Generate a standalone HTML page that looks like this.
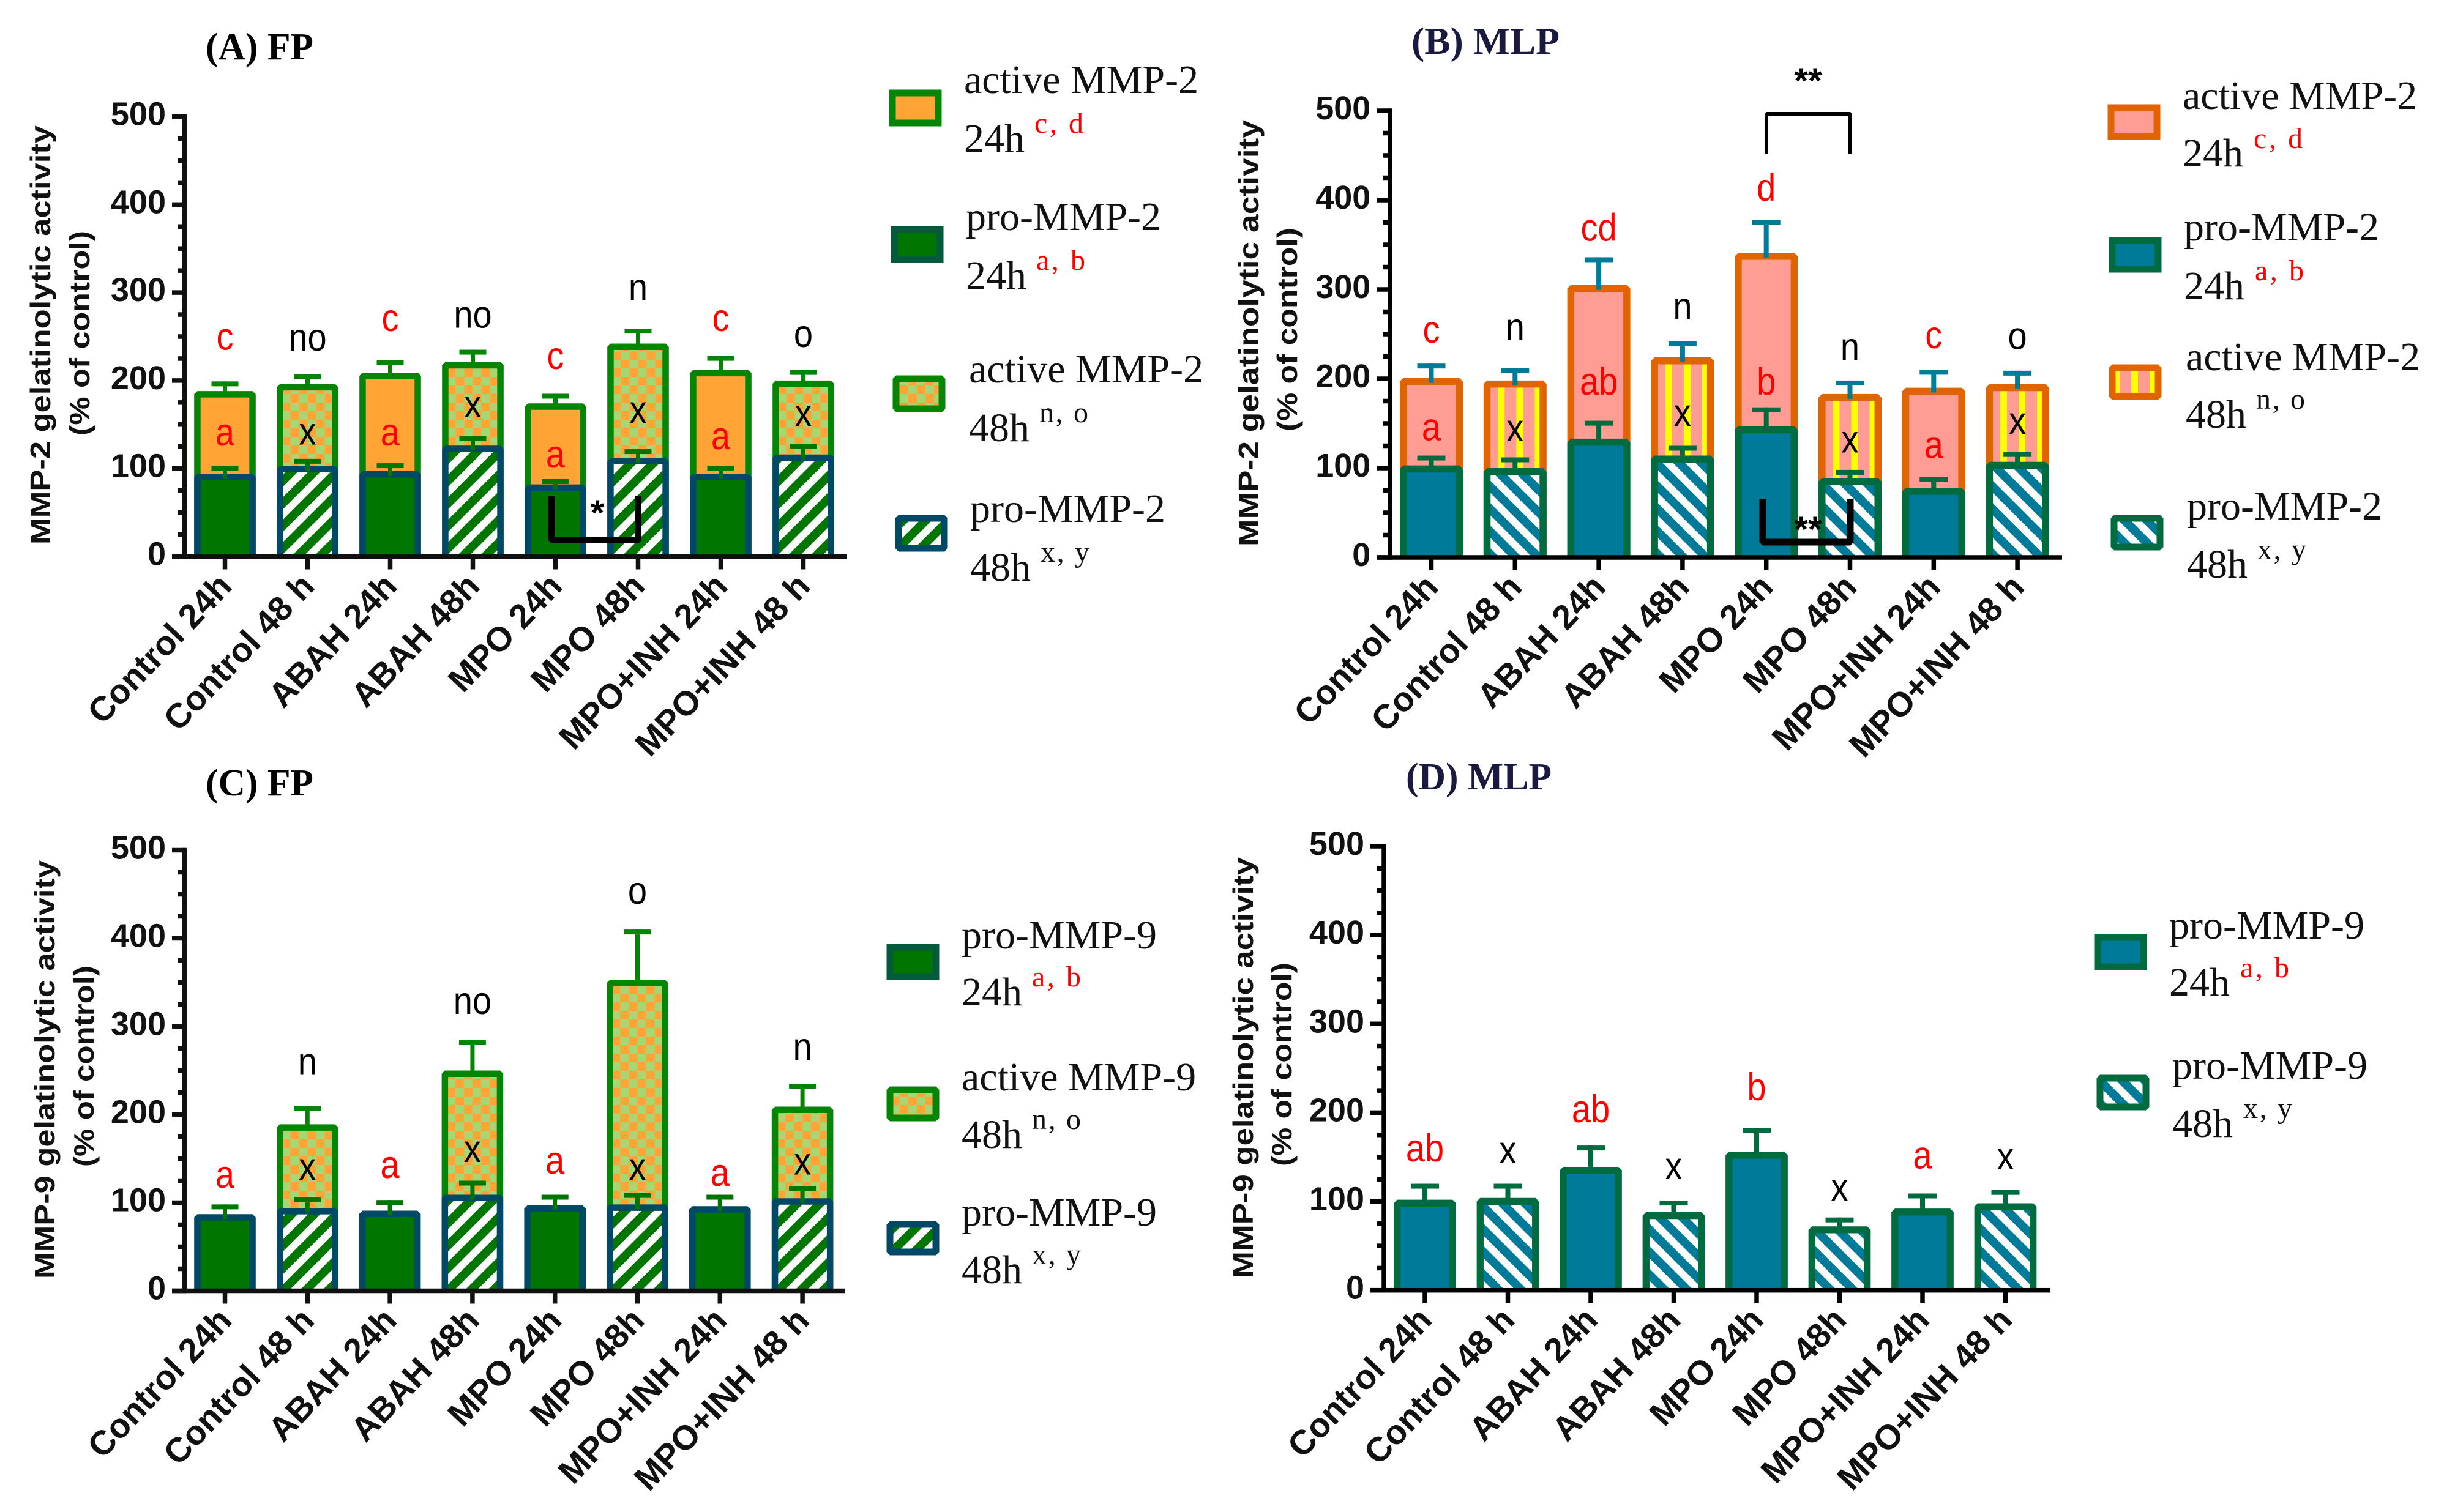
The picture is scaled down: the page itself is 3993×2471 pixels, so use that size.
<!DOCTYPE html>
<html>
<head>
<meta charset="utf-8">
<title>MMP-2 and MMP-9 gelatinolytic activity</title>
<style>
html,body{margin:0;padding:0;background:#fff;width:3993px;height:2471px;overflow:hidden}
svg{display:block}
.leg{font-family:"Liberation Serif",serif;font-size:66px;fill:#111}
.sup{font-family:"Liberation Serif",serif;font-size:48px}
.ttl{font-family:"Liberation Serif",serif;font-size:62px;font-weight:bold}
.star{font-family:"Liberation Sans",sans-serif;font-weight:bold;font-size:58px;fill:#000;text-anchor:middle}
</style>
</head>
<body>
<svg id="fig" xmlns="http://www.w3.org/2000/svg" width="3993" height="2471" viewBox="0 0 3993 2471">
<defs>
<pattern id="hatchGreen" patternUnits="userSpaceOnUse" width="26" height="26" patternTransform="rotate(45)"><rect width="26" height="26" fill="#fff"/><rect width="14" height="26" fill="#007500"/></pattern>
<pattern id="hatchTeal" patternUnits="userSpaceOnUse" width="26" height="26" patternTransform="rotate(-45)"><rect width="26" height="26" fill="#fff"/><rect width="14" height="26" fill="#007a99"/></pattern>
<pattern id="checker" patternUnits="userSpaceOnUse" width="28" height="28"><rect width="28" height="28" fill="#ffa435"/><rect x="14" width="14" height="14" fill="#a8d672"/><rect y="14" width="14" height="14" fill="#a8d672"/></pattern>
<pattern id="vstripe" patternUnits="userSpaceOnUse" x="-8" width="30" height="30"><rect width="30" height="30" fill="#ff9c94"/><rect x="10" width="11" height="30" fill="#ffff00"/></pattern>
</defs>

<text class="ttl" x="336" y="97" fill="#000" textLength="176" lengthAdjust="spacingAndGlyphs">(A) FP</text>
<text class="ttl" x="2306" y="88" fill="#1a1a40" textLength="242" lengthAdjust="spacingAndGlyphs">(B) MLP</text>
<text class="ttl" x="336" y="1300" fill="#000" textLength="176" lengthAdjust="spacingAndGlyphs">(C) FP</text>
<text class="ttl" x="2297" y="1290" fill="#1a1a40" textLength="238" lengthAdjust="spacingAndGlyphs">(D) MLP</text>

<!-- Panel A legend -->
<g>
<g>
<rect x="1458" y="152" width="75" height="49" fill="#ffa435" stroke="#058505" stroke-width="11"/>
<text class="leg" x="1575" y="152">active MMP-2</text>
<text class="leg" x="1575" y="248">24h</text>
<text class="sup" x="1690" y="217" fill="#f00" textLength="80">c, d</text></g>
<g>
<rect x="1461" y="375" width="75" height="49" fill="#007500" stroke="#045a3c" stroke-width="11"/>
<text class="leg" x="1578" y="376">pro-MMP-2</text>
<text class="leg" x="1578" y="472">24h</text>
<text class="sup" x="1693" y="441" fill="#f00" textLength="80">a, b</text></g>
<g>
<rect x="1464" y="619" width="75" height="49" fill="url(#checker)" stroke="#058505" stroke-width="11" stroke-linejoin="bevel"/>
<text class="leg" x="1583" y="625">active MMP-2</text>
<text class="leg" x="1583" y="721">48h</text>
<text class="sup" x="1698" y="690" fill="#111" textLength="80">n, o</text></g>
<g>
<rect x="1468" y="847" width="75" height="49" fill="url(#hatchGreen)" stroke="#004966" stroke-width="11" stroke-linejoin="bevel"/>
<text class="leg" x="1585" y="853">pro-MMP-2</text>
<text class="leg" x="1585" y="949">48h</text>
<text class="sup" x="1700" y="918" fill="#111" textLength="80">x, y</text></g>
</g>

<!-- Panel B legend -->
<g>
<g>
<rect x="3449" y="176" width="75" height="47" fill="#ff9c94" stroke="#e06500" stroke-width="11"/>
<text class="leg" x="3566" y="178">active MMP-2</text>
<text class="leg" x="3566" y="272">24h</text>
<text class="sup" x="3682" y="242" fill="#f00" textLength="80">c, d</text></g>
<g>
<rect x="3451" y="393" width="75" height="47" fill="#007a99" stroke="#006b3f" stroke-width="11"/>
<text class="leg" x="3568" y="393">pro-MMP-2</text>
<text class="leg" x="3568" y="489">24h</text>
<text class="sup" x="3684" y="458" fill="#f00" textLength="80">a, b</text></g>
<g>
<rect x="3451" y="601" width="75" height="47" fill="url(#vstripe)" stroke="#e06500" stroke-width="11" stroke-linejoin="bevel"/>
<text class="leg" x="3571" y="605">active MMP-2</text>
<text class="leg" x="3571" y="699">48h</text>
<text class="sup" x="3686" y="668" fill="#111" textLength="80">n, o</text></g>
<g>
<rect x="3454" y="847" width="75" height="47" fill="url(#hatchTeal)" stroke="#006b3f" stroke-width="11" stroke-linejoin="bevel"/>
<text class="leg" x="3573" y="849">pro-MMP-2</text>
<text class="leg" x="3573" y="944">48h</text>
<text class="sup" x="3688" y="914" fill="#111" textLength="80">x, y</text></g>
</g>

<!-- Panel C legend -->
<g>
<g>
<rect x="1454" y="1548" width="75" height="48" fill="#007500" stroke="#045a3c" stroke-width="11"/>
<text class="leg" x="1571" y="1550">pro-MMP-9</text>
<text class="leg" x="1571" y="1643">24h</text>
<text class="sup" x="1686" y="1612" fill="#f00" textLength="80">a, b</text></g>
<g>
<rect x="1454" y="1781" width="75" height="46" fill="url(#checker)" stroke="#058505" stroke-width="11" stroke-linejoin="bevel"/>
<text class="leg" x="1571" y="1782">active MMP-9</text>
<text class="leg" x="1571" y="1876">48h</text>
<text class="sup" x="1686" y="1845" fill="#111" textLength="80">n, o</text></g>
<g>
<rect x="1454" y="2001" width="75" height="45" fill="url(#hatchGreen)" stroke="#004966" stroke-width="11" stroke-linejoin="bevel"/>
<text class="leg" x="1571" y="2003">pro-MMP-9</text>
<text class="leg" x="1571" y="2097">48h</text>
<text class="sup" x="1686" y="2066" fill="#111" textLength="80">x, y</text></g>
</g>

<!-- Panel D legend -->
<g>
<g>
<rect x="3427" y="1532" width="75" height="48" fill="#007a99" stroke="#006b3f" stroke-width="11"/>
<text class="leg" x="3544" y="1534">pro-MMP-9</text>
<text class="leg" x="3544" y="1627">24h</text>
<text class="sup" x="3660" y="1597" fill="#f00" textLength="80">a, b</text></g>
<g>
<rect x="3431" y="1762" width="75" height="47" fill="url(#hatchTeal)" stroke="#006b3f" stroke-width="11" stroke-linejoin="bevel"/>
<text class="leg" x="3549" y="1763">pro-MMP-9</text>
<text class="leg" x="3549" y="1858">48h</text>
<text class="sup" x="3665" y="1827" fill="#111" textLength="80">x, y</text></g>
</g>
</svg>

<script>
const categories = ["Control 24h","Control 48 h","ABAH 24h","ABAH 48h","MPO 24h","MPO 48h","MPO+INH 24h","MPO+INH 48 h"];
const yTickLabels = [0,100,200,300,400,500];

const panelAActive = [188,196,209,221,174,242,212,200];
const panelAActiveErr = [11,11,14,14,11,17,16,12];
const panelAPro = [94,103,97,126,82,112,94,116];
const panelAProErr = [9,8,9,11,6,10,9,12];
const panelATopLabels = ["c","no","c","no","c","n","c","o"];
const panelATopGap = [50,41,47,39,42,46,42,40];
const panelAInnerLabels = ["a","x","a","x","a","x","a","x"];
const panelAInnerGap = [37,30,34,35,27,44,33,34];

const panelBActive = [201,198,305,224,341,183,190,194];
const panelBActiveErr = [16,14,31,18,37,15,20,15];
const panelBPro = [103,100,133,114,147,89,78,107];
const panelBProErr = [11,12,20,11,21,9,12,11];
const panelBTopLabels = ["c","n","cd","n","d","n","c","o"];
const panelBTopGap = [37,45,32,38,35,37,38,38];
const panelBInnerLabels = ["a","x","ab","x","b","x","a","x"];
const panelBInnerGap = [31,32,43,36,28,33,35,34];

const panelCActive = [null,189,null,250,null,353,null,209];
const panelCActiveErr = [null,21,null,35,null,57,null,26];
const panelCPro = [87,94,91,109,97,98,96,105];
const panelCProErr = [11,12,12,16,12,13,13,14];
const panelCTopLabels = ["a","n","a","no","a","o","a","n"];
const panelCTopGap = [33,49,39,43,38,43,24,41];
const panelCInnerLabels = ["","x","","x","","x","","x"];
const panelCInnerGap = [0,34,0,35,0,29,0,27];

const panelDPro = [102,104,139,88,156,72,92,98];
const panelDProErr = [18,16,24,13,27,10,17,15];
const panelDTopLabels = ["ab","x","ab","x","b","x","a","x"];
const panelDTopGap = [39,37,40,38,45,33,42,37];

const NS = "http://www.w3.org/2000/svg";
const fig = document.getElementById("fig");

function mk(tag, attrs, parent){
  const el = document.createElementNS(NS, tag);
  for (const k in attrs) el.setAttribute(k, attrs[k]);
  parent.appendChild(el);
  return el;
}

function drawPanel(p){
  const yScale = v => p.y0 - v * (p.y0 - p.y500) / 500;
  const xScale = i => p.x0 + i * p.step;
  const AT = 7.5;

  const root = mk("g", {}, fig);
  
  

  function errorBar(cx, value, err, color, parent){
    const top = yScale(value + err);
    const stem = mk("rect", {x: cx - p.stemW/2, y: top, width: p.stemW, height: yScale(value) - top + 8, fill: color}, parent);
    
    
    const cap = mk("rect", {x: cx - p.capW/2, y: top, width: p.capW, height: 8, fill: color}, parent);
    
    
  }

  function bar(cx, value, fill, stroke, parent){
    const sw = p.sw, w = p.barW, half = w/2 - sw/2, yTop = yScale(value) + sw/2;
    const g = mk("g", {transform: "translate(" + cx + ",0)"}, parent);
    
    
    const r = mk("rect", {x: -half, y: yTop, width: half*2, height: p.y0 - yTop, fill: fill}, g);
    
    
    const o = mk("path", {d: "M" + (-half) + " " + p.y0 + " L" + (-half) + " " + yTop + " L" + half + " " + yTop + " L" + half + " " + p.y0, fill: "none", stroke: stroke, "stroke-width": sw, "stroke-linejoin": "bevel"}, g);
    
    
  }

  function letter(cx, yc, txt, col, name, parent){
    const t = mk("text", {x: 0, y: 0, transform: "translate(" + cx + "," + (yc + 20) + ") scale(1,1.12)", fill: col, "text-anchor": "middle", "font-family": "Liberation Sans, sans-serif", "font-size": 56}, parent);
    t.textContent = txt;
    
    
  }

  categories.forEach(function(c, i){
    const cx = xScale(i);
    const is48 = i % 2 === 1;
    if (p.active && p.active[i] !== null){
      bar(cx, p.active[i], is48 ? p.fillActive48 : p.fillActive24, p.strokeActive, root);
      errorBar(cx, p.active[i], p.activeErr[i], p.errActive, root);
    }
    bar(cx, p.pro[i], is48 ? p.fillPro48 : p.fillPro24, p.strokePro, root);
    errorBar(cx, p.pro[i], p.proErr[i], p.errPro, root);
  });

  categories.forEach(function(c, i){
    const cx = xScale(i);
    const col = i % 2 === 1 ? "#000" : "#f00";
    const hasActive = p.active && p.active[i] !== null;
    const highest = hasActive ? p.active[i] + p.activeErr[i] : p.pro[i] + p.proErr[i];
    letter(cx, yScale(highest + p.topGap[i]), p.topLabels[i], col, 'significance-label', root);
    if (p.innerLabels && p.innerLabels[i]){
      letter(cx, yScale(p.pro[i] + p.proErr[i] + p.innerGap[i]), p.innerLabels[i], col, 'pro-significance-label', root);
    }
  });

  /* axes */
  const yAxis = mk("rect", {x: p.axisX - AT/2, y: p.y500 - AT/2, width: AT, height: p.y0 - p.y500 + AT, fill: p.axisColor}, root);
  
  
  const xAxis = mk("rect", {x: p.axisStart, y: p.y0 - AT/2, width: p.axisEnd - p.axisStart, height: AT, fill: p.axisColor}, root);
  
  

  for (let v = 25; v < 500; v += 25){
    if (v % 100 === 0) continue;
    const m = mk("rect", {x: p.axisX - 11, y: yScale(v) - AT/2, width: 11, height: AT, fill: p.axisColor}, root);
    
    
  }
  yTickLabels.forEach(function(v){
    const m = mk("rect", {x: p.axisStart, y: yScale(v) - AT/2, width: p.axisX - p.axisStart, height: AT, fill: p.axisColor}, root);
    
    
    const t = mk("text", {x: p.axisStart - 10, y: yScale(v) + 14, "text-anchor": "end", "font-family": "Liberation Sans, sans-serif", "font-weight": "bold", "font-size": 54, fill: "#111"}, root);
    t.textContent = v;
    
    
  });

  categories.forEach(function(c, i){
    const cx = xScale(i);
    const m = mk("rect", {x: cx - AT/2, y: p.y0, width: AT, height: 21, fill: p.axisColor}, root);
    
    
    const ax = cx + 14, ay = p.y0 + 51;
    const t = mk("text", {x: ax, y: ay, transform: "rotate(-46.5 " + ax + " " + ay + ")", "text-anchor": "end", "font-family": "Liberation Sans, sans-serif", "font-weight": "bold", "font-size": 56, fill: "#111"}, root);
    t.textContent = c;
    
    
  });

  /* y title */
  const l1 = p.title1, l2 = p.title2;
  const t1 = mk("text", {transform: "translate(" + l1.x + "," + l1.bottom + ") rotate(-90)", textLength: l1.len, lengthAdjust: "spacingAndGlyphs", "font-family": "Liberation Sans, sans-serif", "font-weight": "bold", "font-size": 46, fill: "#111"}, root);
  t1.textContent = p.titleText;
  
  
  const t2 = mk("text", {transform: "translate(" + l2.x + "," + l2.bottom + ") rotate(-90)", textLength: l2.len, lengthAdjust: "spacingAndGlyphs", "font-family": "Liberation Sans, sans-serif", "font-weight": "bold", "font-size": 46, fill: "#111"}, root);
  t2.textContent = "(% of control)";
  
  
  return {root: root, xScale: xScale, yScale: yScale};
}

function bracket(parent, x1, x2, yA, yB, w){
  const b = mk("path", {d: "M" + x1 + " " + yA + " L" + x1 + " " + yB + " L" + x2 + " " + yB + " L" + x2 + " " + yA, fill: "none", stroke: "#000", "stroke-width": w, "stroke-linejoin": "bevel"}, parent);
  
  
}
function star(parent, x, y, s){
  const t = mk("text", {x: x, y: y, class: "star"}, parent);
  t.textContent = s;
  
  
}

const green = {fillActive24:"#ffa435", fillActive48:"url(#checker)", fillPro24:"#007500", fillPro48:"url(#hatchGreen)", strokeActive:"#058505", strokePro:"#004966", errActive:"#058505", errPro:"#007500", barW:100.6, sw:10.5, capW:44, stemW:7, axisColor:"#111"};
const teal = {fillActive24:"#ff9c94", fillActive48:"url(#vstripe)", fillPro24:"#007a99", fillPro48:"url(#hatchTeal)", strokeActive:"#e06500", strokePro:"#006b3f", errActive:"#007a99", errPro:"#006b3f", barW:103, sw:11.5, capW:46, stemW:8, axisColor:"#000"};

const panelA = drawPanel(Object.assign({}, green, {
  name:"panel-a-chart", axisX:301.3, axisStart:281, axisEnd:1384, y0:909.5, y500:190.5, x0:367.5, step:135,
  active:panelAActive, activeErr:panelAActiveErr, pro:panelAPro, proErr:panelAProErr,
  topLabels:panelATopLabels, topGap:panelATopGap, innerLabels:panelAInnerLabels, innerGap:panelAInnerGap,
  titleText:"MMP-2 gelatinolytic activity",
  title1:{x:82,bottom:890,len:685}, title2:{x:146,bottom:712,len:335}
}));
bracket(panelA.root, 901, 1043, 811, 883, 10);
star(panelA.root, 976, 858, "*");

const panelB = drawPanel(Object.assign({}, teal, {
  name:"panel-b-chart", axisX:2271, axisStart:2249.3, axisEnd:3369, y0:911, y500:181, x0:2338.5, step:136.8,
  active:panelBActive, activeErr:panelBActiveErr, pro:panelBPro, proErr:panelBProErr,
  topLabels:panelBTopLabels, topGap:panelBTopGap, innerLabels:panelBInnerLabels, innerGap:panelBInnerGap,
  titleText:"MMP-2 gelatinolytic activity",
  title1:{x:2056,bottom:893,len:697}, title2:{x:2119,bottom:705,len:333}
}));
bracket(panelB.root, 2880, 3023, 815, 886, 11);
star(panelB.root, 2954, 885, "**");
bracket(panelB.root, 2886, 3023, 252, 186, 6);
star(panelB.root, 2954, 152, "**");

const panelC = drawPanel(Object.assign({}, green, {
  name:"panel-c-chart", axisX:301.3, axisStart:281, axisEnd:1381, y0:2109.5, y500:1389.5, x0:367.5, step:134.8,
  active:panelCActive, activeErr:panelCActiveErr, pro:panelCPro, proErr:panelCProErr,
  topLabels:panelCTopLabels, topGap:panelCTopGap, innerLabels:panelCInnerLabels, innerGap:panelCInnerGap,
  titleText:"MMP-9 gelatinolytic activity",
  title1:{x:89,bottom:2090,len:684}, title2:{x:153,bottom:1907,len:329}
}));

const panelD = drawPanel(Object.assign({}, teal, {
  name:"panel-d-chart", axisX:2261, axisStart:2239, axisEnd:3350, y0:2108.7, y500:1383, x0:2328, step:135.5, barW:101.7, sw:11.3,
  active:null, pro:panelDPro, proErr:panelDProErr,
  topLabels:panelDTopLabels, topGap:panelDTopGap, innerLabels:null, innerGap:null,
  titleText:"MMP-9 gelatinolytic activity",
  title1:{x:2047,bottom:2089,len:688}, title2:{x:2110,bottom:1906,len:333}
}));
</script>
</body>
</html>
